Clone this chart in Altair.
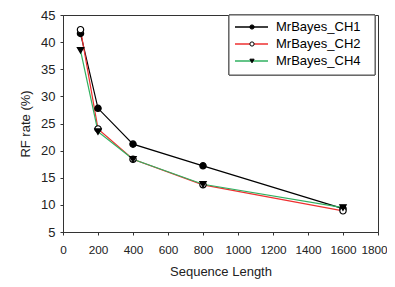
import altair as alt
import pandas as pd

lengths = [100, 200, 400, 800, 1600]
series_names = ["MrBayes_CH1", "MrBayes_CH2", "MrBayes_CH4"]
ch1 = [41.6, 27.8, 21.2, 17.2, 9.3]
ch2 = [42.3, 24.0, 18.4, 13.7, 8.9]
ch4 = [38.5, 23.5, 18.4, 13.8, 9.5]
x_ticks = [0, 200, 400, 600, 800, 1000, 1200, 1400, 1600, 1800]
y_ticks = [5, 10, 15, 20, 25, 30, 35, 40, 45]

line_colors = ["#000000", "#ee3030", "#30b060"]
shapes = ["circle", "circle", "triangle-down"]
fills = ["#000000", "#ffffff", "#000000"]

rows = []
for name, vals in zip(series_names, [ch1, ch2, ch4]):
    for L, v in zip(lengths, vals):
        rows.append({"series": name, "length": L, "rf": v})
df = pd.DataFrame(rows)
leg = pd.DataFrame({"series": series_names})

FONT = "Liberation Sans"

x_enc = alt.X("length:Q", scale=alt.Scale(domain=[0, 1800], nice=False),
              axis=alt.Axis(values=x_ticks, format="d", title="Sequence Length", grid=False,
                            tickSize=3, labelPadding=9, titlePadding=10, labelFontSize=11.8,
                            labelOverlap=False, labelFlush=False,
                            labelOffset=alt.ExprRef("datum.value == 1800 ? -4 : 0")))
y_enc = alt.Y("rf:Q", scale=alt.Scale(domain=[5, 45], nice=False, zero=False),
              axis=alt.Axis(values=y_ticks, title="RF rate (%)", grid=False,
                            tickSize=3, labelPadding=5, titlePadding=8,
                            labelOverlap=False, labelFlush=False))
col = alt.Color("series:N", scale=alt.Scale(domain=series_names, range=line_colors), legend=None)
shp = alt.Shape("series:N", scale=alt.Scale(domain=series_names, range=shapes), legend=None)
fil = alt.Fill("series:N", scale=alt.Scale(domain=series_names, range=fills), legend=None)

lines = alt.Chart(df).mark_line(strokeWidth=1.2).encode(x=x_enc, y=y_enc, color=col, detail="series:N")
pts = alt.Chart(df).mark_point(size=40, stroke="black", strokeWidth=1.2, opacity=1, filled=False).encode(
    x=x_enc, y=y_enc, shape=shp, fill=fil)
main = alt.layer(lines, pts)

ly = alt.Y("series:N", scale=alt.Scale(domain=series_names, range=[12, 46], type="point", padding=0), axis=None)
box = alt.Chart(leg).mark_rect(fill="white", stroke="#555555", strokeWidth=1).encode(
    x=alt.value(166), x2=alt.value(312), y=alt.value(0), y2=alt.value(60))
lrule = alt.Chart(leg).mark_rule(strokeWidth=1.5).encode(
    x=alt.value(172), x2=alt.value(205), y=ly, color=col)
lpts = alt.Chart(leg).mark_point(size=18, stroke="black", strokeWidth=1, opacity=1, filled=False).encode(
    x=alt.value(189), y=ly, shape=shp, fill=fil)
ltxt = alt.Chart(leg).mark_text(align="left", baseline="middle", font=FONT, fontSize=13).encode(
    x=alt.value(213), y=ly, text="series:N")

legend = alt.layer(box, lrule, lpts, ltxt)

chart = alt.layer(main, legend).resolve_scale(y="independent").properties(
    width=315, height=217,
    autosize=alt.AutoSizeParams(type="none"),
    padding={"left": 55, "top": 7, "right": 9, "bottom": 50},
).configure_view(stroke="#333333", strokeWidth=1).configure_axis(
    labelFont=FONT, titleFont=FONT, labelFontSize=13, titleFontSize=13,
    titleFontWeight="normal", labelColor="#222222", titleColor="#222222",
    domainColor="#333333", tickColor="#333333",
)

chart.save("out.html", embed_options={"renderer": "svg", "actions": False})
